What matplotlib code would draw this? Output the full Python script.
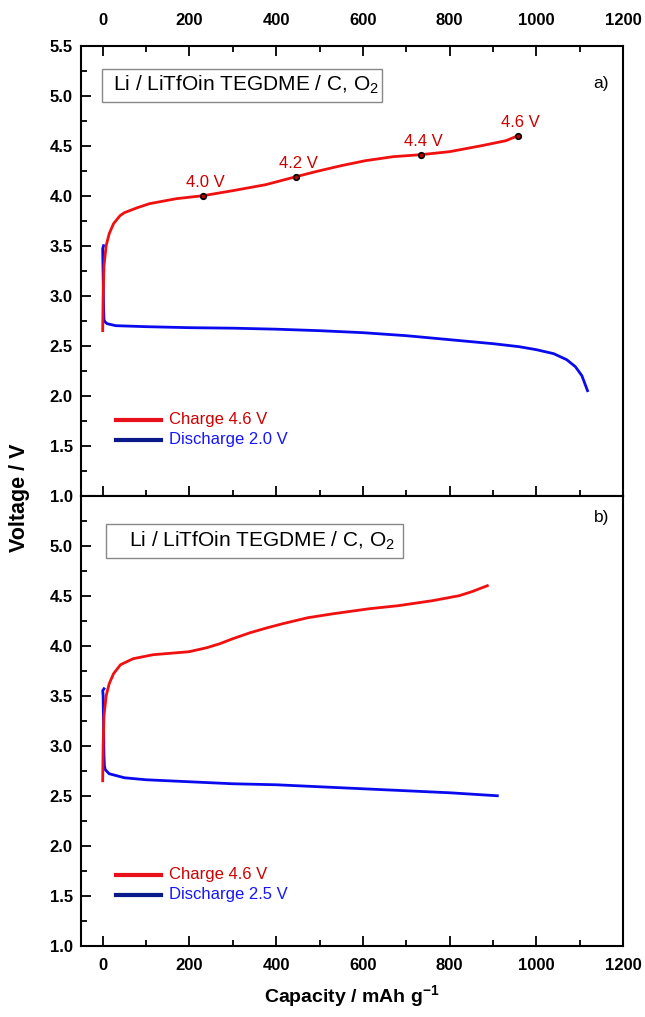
import numpy as np
import matplotlib
matplotlib.use("Agg")
import matplotlib.pyplot as plt
from matplotlib.ticker import MultipleLocator
from matplotlib.patches import Rectangle

plt.rcParams['font.family'] = ['Liberation Sans', 'DejaVu Sans']
plt.rcParams['mathtext.fontset'] = 'custom'
plt.rcParams['mathtext.rm'] = 'Liberation Sans'
plt.rcParams['mathtext.bf'] = 'Liberation Sans:bold'

# panel a) charge / discharge (capacity in mAh/g, voltage in V)
cap_chg_a = [0, 1, 3, 8, 15, 25, 40, 50, 80, 108, 170, 232, 300, 376, 446, 491,
             550, 606, 670, 734, 800, 874, 930, 958]
v_chg_a = [2.65, 3.0, 3.3, 3.5, 3.62, 3.72, 3.8, 3.83, 3.88, 3.92, 3.97, 4.0, 4.05,
           4.11, 4.19, 4.24, 4.3, 4.35, 4.39, 4.41, 4.44, 4.5, 4.55, 4.6]
cap_dis_a = [2, 0, 1, 2, 3, 5, 10, 30, 100, 200, 300, 400, 500, 600, 700, 800,
             900, 960, 1000, 1040, 1070, 1090, 1105, 1118]
v_dis_a = [3.5, 3.47, 3.2, 2.9, 2.76, 2.74, 2.72, 2.70, 2.69, 2.68, 2.675, 2.665,
           2.65, 2.63, 2.6, 2.56, 2.52, 2.49, 2.46, 2.42, 2.36, 2.29, 2.2, 2.05]

# cut-off points marked on the charge curve
mark_cap = [232, 446, 734, 958]
mark_v = [4.0, 4.19, 4.41, 4.6]
mark_lbl = ['4.0 V', '4.2 V', '4.4 V', '4.6 V']

# panel b)
cap_chg_b = [0, 1, 3, 8, 15, 25, 41, 70, 116, 199, 240, 270, 300, 340, 380, 415,
             473, 532, 615, 681, 760, 822, 851, 887]
v_chg_b = [2.65, 3.0, 3.3, 3.5, 3.62, 3.72, 3.81, 3.87, 3.91, 3.94, 3.98, 4.02,
           4.07, 4.13, 4.18, 4.22, 4.28, 4.32, 4.37, 4.40, 4.45, 4.5, 4.54, 4.6]
cap_dis_b = [3, 0, 1, 2, 3, 4, 6, 15, 50, 100, 200, 300, 400, 500, 600, 700, 800, 910]
v_dis_b = [3.57, 3.55, 3.5, 3.2, 2.9, 2.8, 2.76, 2.72, 2.68, 2.66, 2.64, 2.62, 2.61,
           2.59, 2.57, 2.55, 2.53, 2.50]

cell_txt = 'Li / LiTfOin TEGDME / C, O$_2$'

RED = '#f01010'
BLUE = '#0a0aee'

fig = plt.figure(figsize=(6.45, 10.17), dpi=100)
ax1 = fig.add_axes([0.1256, 0.5126, 0.8404, 0.4425])
ax2 = fig.add_axes([0.1256, 0.0700, 0.8404, 0.4426])


def style(ax, top_labels):
    ax.set_xlim(-50, 1200)
    ax.set_ylim(1.0, 5.5)
    ax.xaxis.set_major_locator(MultipleLocator(200))
    ax.xaxis.set_minor_locator(MultipleLocator(100))
    ax.yaxis.set_major_locator(MultipleLocator(0.5))
    ax.yaxis.set_minor_locator(MultipleLocator(0.25))
    ax.yaxis.set_major_formatter(plt.FormatStrFormatter('%.1f'))
    for s in ax.spines.values():
        s.set_linewidth(1.5)
    ax.tick_params(which='both', direction='in', width=1.3, right=False,
                   labelsize=12)
    ax.tick_params(which='major', length=7)
    ax.tick_params(which='minor', length=4)
    ax.tick_params(axis='y', pad=6)
    if top_labels:
        ax.tick_params(axis='x', which='both', top=True, bottom=True,
                       labeltop=True, labelbottom=False, pad=13)
    else:
        ax.tick_params(axis='x', which='both', top=False, bottom=True, pad=9)


style(ax1, True)
style(ax2, False)
ax2.set_yticks([1.0, 1.5, 2.0, 2.5, 3.0, 3.5, 4.0, 4.5, 5.0])
for ax in (ax1, ax2):
    for lab in ax.get_xticklabels() + ax.get_yticklabels():
        lab.set_fontweight('bold')

# panel a
ax1.plot(cap_dis_a, v_dis_a, color=BLUE, lw=2)
ax1.plot(cap_chg_a, v_chg_a, color=RED, lw=2)
ax1.plot(mark_cap, mark_v, 'o', ms=4, mfc='#c00000', mec='black', mew=1.2)
for c, v, t in zip(mark_cap, mark_v, mark_lbl):
    ax1.text(c + 5, v + 0.06, t, color='#cc0000', fontsize=12, ha='center', va='bottom')

# panel b
ax2.plot(cap_dis_b, v_dis_b, color=BLUE, lw=2)
ax2.plot(cap_chg_b, v_chg_b, color=RED, lw=2)

panels = [(ax1, 'Discharge 2.0 V', 1.76, 'a)', 5.12, (-2, 4.94, 646, 0.33), 24),
          (ax2, 'Discharge 2.5 V', 1.71, 'b)', 5.28, (7, 4.88, 686, 0.34), 61)]
for ax, dis_lbl, y0, tag, ytag, box, xtxt in panels:
    ax.plot([31, 135], [y0, y0], color='#e8101a', lw=3)
    ax.plot([31, 135], [y0 - 0.2, y0 - 0.2], color='#0a1a8a', lw=3)
    ax.text(152, y0, 'Charge 4.6 V', color='#d00000', fontsize=12, va='center')
    ax.text(152, y0 - 0.2, dis_lbl, color='#1515ff', fontsize=12, va='center')
    ax.text(1150, ytag, tag, fontsize=12.5, ha='center', va='center')
    ax.add_patch(Rectangle((box[0], box[1]), box[2], box[3], fill=False,
                           ec='#888888', lw=1))
    ax.text(xtxt, box[1] + box[3] / 2, cell_txt, fontsize=15, ha='left',
            va='center')

fig.text(0.031, 0.511, 'Voltage / V', rotation=90, fontsize=15.5, fontweight='bold',
         ha='center', va='center')
fig.text(0.546, 0.020, r'Capacity / mAh g$^{\mathbf{-1}}$', fontsize=14,
         fontweight='bold', ha='center', va='center')

fig.savefig('out.png', dpi=100)
